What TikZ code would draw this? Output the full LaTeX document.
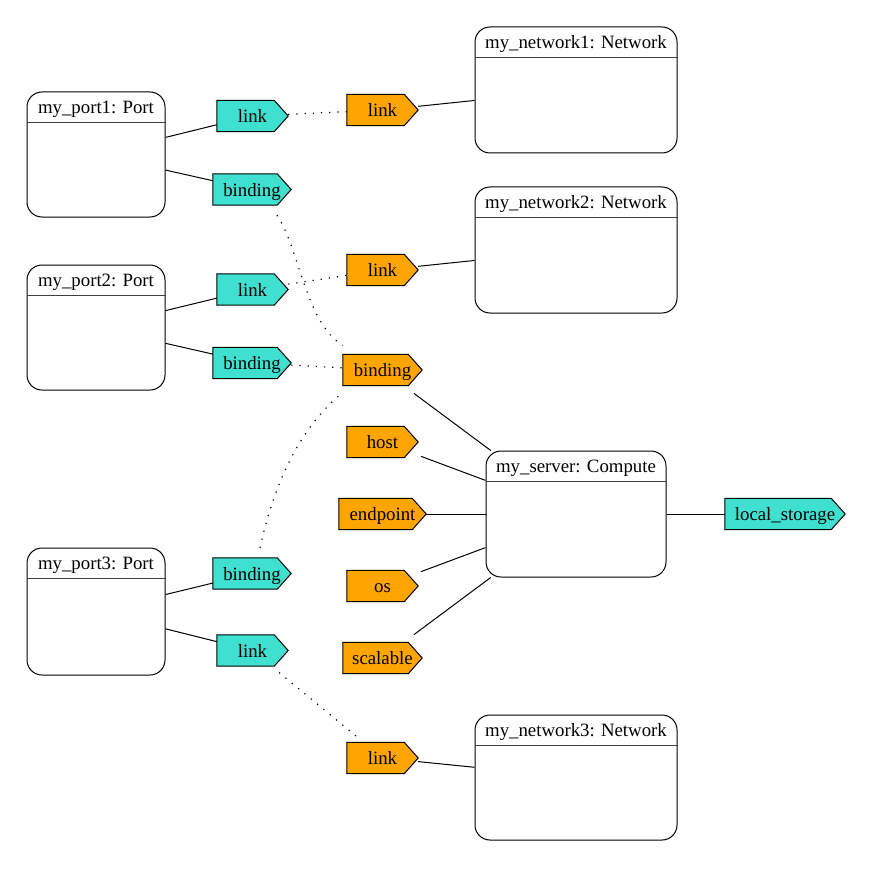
\documentclass[tikz,border=0pt]{standalone}
\usepackage{fontspec}
\setmainfont{Liberation Serif}
\usetikzlibrary{calc}
\pgfdeclarelayer{background}
\pgfsetlayers{background,main}
\definecolor{turq}{HTML}{40E0D0}
\definecolor{orng}{HTML}{FFA500}
\tikzset{
  every node/.style={font=\fontsize{18.8}{22}\selectfont},
  umlbox/.style={draw, line width=1pt, rounded corners=15pt, inner sep=0pt},
  titletext/.style={inner sep=0pt, text height=13.4pt, text depth=0pt},
  tagbox/.style={inner sep=0pt, minimum height=31pt, text height=13.4pt, text depth=0pt},
  solidedge/.style={line width=1pt},
  dotedge/.style={line width=1.2pt, dash pattern=on 1.2pt off 7pt},
  sepline/.style={line width=1.3pt, black!75},
}
% object box with a title compartment (y axis points down)
\newcommand\objbox[5]{% name, centre, width, height, title
  \node[umlbox, minimum width=#3pt, minimum height=#4pt] (#1) at (#2) {};
  \node[titletext] (#1-title) at ($(#1.north)+(0,15)$) {#5};
  \draw[sepline] ($(#1.north west)+(0,31)$) -- ($(#1.north east)+(0,31)$);
}
% property tag: rectangle with a pointed right end
\newcommand\proptag[5]{% name, centre, width, fill, text
  \node[tagbox, minimum width=#3pt] (#1) at (#2) {#5};
  \begin{pgfonlayer}{background}
    \filldraw[fill=#4, line width=1pt, line join=miter]
      (#1.south west) -- ($(#1.south east)+(-14,0)$) -- (#1.east)
      -- ($(#1.north east)+(-14,0)$) -- (#1.north west) -- cycle;
  \end{pgfonlayer}
}
\begin{document}
\begin{tikzpicture}[x=1pt, y=-1pt]
\useasboundingbox (0,0) rectangle (872,869);

% ports
\objbox{port1}{96,154.5}{138}{125}{my\_port1: Port}
\objbox{port2}{96,327.5}{138}{125}{my\_port2: Port}
\objbox{port3}{96,611.5}{138}{127}{my\_port3: Port}
% networks
\objbox{net1}{576,90}{202}{126}{my\_network1: Network}
\objbox{net2}{576,250}{202}{126}{my\_network2: Network}
\objbox{net3}{576,777.5}{202}{125}{my\_network3: Network}
% compute
\objbox{server}{576,514}{180}{126}{my\_server: Compute}

% requirement tags of the ports
\proptag{p1link}{252.5,116}{71}{turq}{link}
\proptag{p1bind}{252,189.5}{78}{turq}{binding}
\proptag{p2link}{252.5,289.5}{71}{turq}{link}
\proptag{p2bind}{252,363}{78}{turq}{binding}
\proptag{p3bind}{252,573.5}{78}{turq}{binding}
\proptag{p3link}{252.5,650.5}{71}{turq}{link}

% capability tags
\proptag{n1link}{382.5,110}{71}{orng}{link}
\proptag{n2link}{382.5,270}{71}{orng}{link}
\proptag{sbind}{382.5,370}{79}{orng}{binding}
\proptag{shost}{382.5,442}{71}{orng}{host}
\proptag{sendp}{382.5,514}{87}{orng}{endpoint}
\proptag{sos}{382.5,586}{71}{orng}{os}
\proptag{sscal}{382.5,658}{79}{orng}{scalable}
\proptag{n3link}{382.5,758}{71}{orng}{link}
\proptag{sstore}{785,514}{120}{turq}{local\_storage}

% ownership edges
\draw[solidedge] (port1) -- (p1link);
\draw[solidedge] (port1) -- (p1bind);
\draw[solidedge] (port2) -- (p2link);
\draw[solidedge] (port2) -- (p2bind);
\draw[solidedge] (port3) -- (p3bind);
\draw[solidedge] (port3) -- (p3link);
\draw[solidedge] (n1link) -- (net1);
\draw[solidedge] (n2link) -- (net2);
\draw[solidedge] (n3link) -- (net3);
\draw[solidedge, shorten <=13pt] (sbind) -- (server);
\draw[solidedge, shorten <=3pt] (shost) -- (server);
\draw[solidedge] (sendp) -- (server);
\draw[solidedge, shorten <=3pt] (sos) -- (server);
\draw[solidedge, shorten <=13pt] (sscal) -- (server);
\draw[solidedge] (server) -- (sstore);

% requirement fulfilment
\draw[dotedge] (p1link) -- (n1link);
\draw[dotedge] (p2link) -- (n2link);
\draw[dotedge] (p2bind) -- (sbind);
\draw[dotedge, shorten <=10pt, shorten >=8pt] (p3link) -- (n3link);
\draw[dotedge] ($(p1bind.south)+(25,10)$) .. controls (300,250) and (305,322) .. ($(sbind.north west)+(0,-9)$);
\draw[dotedge] ($(p3bind.north)+(8,-10)$) .. controls (275,480) and (300,430) .. ($(sbind.south west)+(-4,10)$);
\end{tikzpicture}
\end{document}
